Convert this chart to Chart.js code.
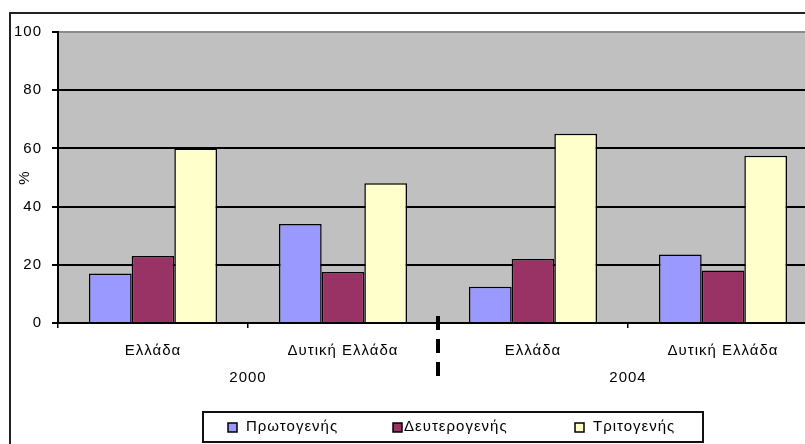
<!DOCTYPE html>
<html>
<head>
<meta charset="utf-8">
<script src="https://cdn.jsdelivr.net/npm/chart.js@4/dist/chart.umd.min.js"></script>
<style>
  html, body { margin: 0; padding: 0; background: #fff; overflow: hidden; }
  canvas { display: block; }
</style>
</head>
<body>
<canvas id="sectorChart" width="830" height="460"></canvas>
<script>
const categories = ['Ελλάδα', 'Δυτική Ελλάδα', 'Ελλάδα', 'Δυτική Ελλάδα'];
const years = ['2000', '2004'];
const seriesNames = ['Πρωτογενής', 'Δευτερογενής', 'Τριτογενής'];
const primary = [17, 34, 12.5, 23.5];
const secondary = [23, 17.5, 22, 18];
const tertiary = [60, 48, 65, 57.5];
const yTicks = [0, 20, 40, 60, 80, 100];

const colors = ['#9999ff', '#993366', '#ffffcc'];
const FAMILY = '"Liberation Sans", Arial, sans-serif';
const FONT = '15px ' + FAMILY;

// the original text is widely spaced
function spacing(chart) {
    chart.ctx.letterSpacing = '1px';
}

const excelLook = {
    id: 'excelLook',
    beforeUpdate(chart) { spacing(chart); },
    beforeDraw(chart) {
        spacing(chart);
        const {ctx, chartArea: a} = chart;
        ctx.save();
        ctx.fillStyle = '#c0c0c0';
        ctx.fillRect(a.left, a.top, a.right - a.left, a.bottom - a.top);
        ctx.restore();
    },
    afterDraw(chart) {
        const {ctx, chartArea: a} = chart;
        const x = chart.scales.x;
        ctx.save();
        ctx.letterSpacing = '1px';

        // outer frame
        ctx.strokeStyle = '#222';
        ctx.lineWidth = 2;
        ctx.strokeRect(10, 13, 830, 460);

        // year labels, one under each pair of categories
        ctx.fillStyle = '#000';
        ctx.font = FONT;
        ctx.textAlign = 'center';
        ctx.textBaseline = 'middle';
        years.forEach((yr, i) => {
            const cx = (x.getPixelForValue(i * 2) + x.getPixelForValue(i * 2 + 1)) / 2;
            ctx.fillText(yr, cx, a.bottom + 55);
        });

        // dashed separator between the years
        const sep = (x.getPixelForValue(1) + x.getPixelForValue(2)) / 2;
        ctx.beginPath();
        ctx.setLineDash([14, 9]);
        ctx.lineWidth = 4;
        ctx.strokeStyle = '#000';
        ctx.moveTo(sep, a.bottom - 7);
        ctx.lineTo(sep, a.bottom + 53);
        ctx.stroke();
        ctx.setLineDash([]);

        // legend box
        const lx = 203, ly = 412, lw = 500, lh = 30;
        ctx.fillStyle = '#fff';
        ctx.fillRect(lx, ly, lw, lh);
        ctx.lineWidth = 2;
        ctx.strokeStyle = '#111';
        ctx.strokeRect(lx, ly, lw, lh);
        const itemX = [228, 393, 575];
        ctx.textAlign = 'left';
        chart.data.datasets.forEach((ds, i) => {
            ctx.fillStyle = ds.backgroundColor;
            ctx.fillRect(itemX[i], ly + 11, 9, 9);
            ctx.lineWidth = 1.5;
            ctx.strokeStyle = '#000';
            ctx.strokeRect(itemX[i], ly + 11, 9, 9);
            ctx.fillStyle = '#000';
            ctx.fillText(ds.label, itemX[i] + (i === 1 ? 11 : 18), ly + 15);
        });
        ctx.restore();
    }
};

const chartData = {
    labels: categories,
    datasets: [primary, secondary, tertiary].map((vals, i) => ({
        label: seriesNames[i],
        data: vals,
        backgroundColor: colors[i],
        borderColor: '#000',
        borderWidth: 1.5,
        categoryPercentage: 0.674,
        barPercentage: 1
    }))
};

new Chart(document.getElementById('sectorChart'), {
    type: 'bar',
    data: chartData,
    plugins: [excelLook],
    options: {
        responsive: false,
        animation: false,
        layout: { padding: { left: 10, top: 32, right: 12, bottom: 0 } },
        plugins: {
            legend: { display: false },
            tooltip: { enabled: false }
        },
        scales: {
            x: {
                afterFit(scale) { scale.height = 137; },
                grid: {
                    offset: true,
                    drawOnChartArea: false,
                    color: '#000',
                    lineWidth: 1.5,
                    tickLength: 5
                },
                border: { color: '#000', width: 2 },
                ticks: {
                    color: '#000',
                    font: { family: FAMILY, size: 15 },
                    padding: 14,
                    maxRotation: 0,
                    autoSkip: false
                }
            },
            y: {
                min: yTicks[0],
                max: yTicks[yTicks.length - 1],
                afterFit(scale) { scale.width = 48; },
                afterBuildTicks(scale) { scale.ticks = yTicks.map(v => ({ value: v })); },
                grid: {
                    color: (c) => c.tick && c.tick.value === 100 ? '#8a8a8a' : '#000',
                    tickColor: '#000',
                    lineWidth: 2,
                    tickLength: 6
                },
                border: { color: '#000', width: 2 },
                ticks: {
                    color: '#000',
                    font: { family: FAMILY, size: 15 },
                    padding: 10
                },
                title: {
                    display: true,
                    text: '%',
                    color: '#000',
                    font: { family: FAMILY, size: 15 },
                    padding: { top: 6, bottom: 0 }
                }
            }
        }
    }
});
</script>
</body>
</html>
